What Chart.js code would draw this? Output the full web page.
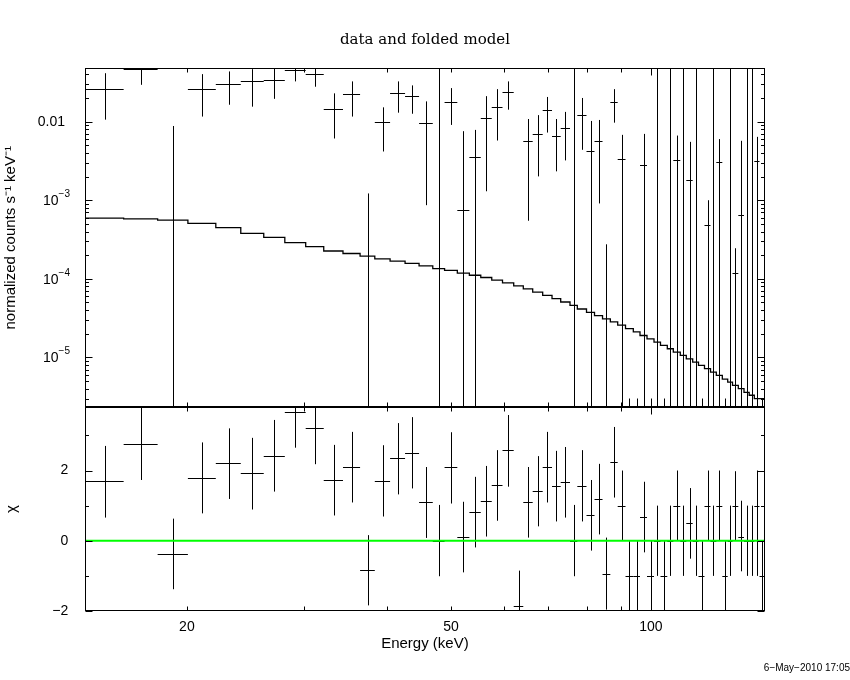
<!DOCTYPE html>
<html>
<head>
<meta charset="utf-8">
<script src="https://cdn.jsdelivr.net/npm/chart.js@4.4.1/dist/chart.umd.min.js"></script>
<style>
html,body{margin:0;padding:0;background:#fff;}
#wrap{position:relative;width:850px;height:680px;}
</style>
</head>
<body>
<div id="wrap"><canvas id="c" width="850" height="680"></canvas></div>
<script>
// ---- bin edges (keV) ----
const binEdges = [14.06, 16.06, 18.07, 20.07, 22.11, 24.11, 26.11, 28.09, 30.20, 32.15,
  34.37, 36.47, 38.38, 40.47, 42.63, 44.75, 46.93, 48.89, 51.10, 53.28,
  55.43, 57.58, 59.77, 62.14, 64.24, 66.37, 68.71, 70.97, 73.14, 75.54,
  77.48, 79.99, 82.24, 84.56, 86.88, 89.13, 91.58, 94.09, 96.30, 98.67,
  101.09, 103.39, 105.86, 108.09, 110.74, 113.07, 115.61, 117.96, 120.44, 122.98,
  125.48, 128.12, 130.54, 132.73, 135.43, 138.13, 140.64, 143.16, 145.76, 148.31];

// ---- data: normalized counts s^-1 keV^-1 (null = no marker drawn; 0 = error bar runs below axis) ----
const rateVal = [0.0257, 0.0465, null, 0.0257, 0.0297, 0.0325, 0.0337, 0.045, 0.0398, 0.0144,
  0.0222, null, 0.0098, 0.0229, 0.0210, 0.0095, null, 0.0176, 0.000755, 0.00354,
  0.0110, 0.0155, 0.0236, null, 0.00565, 0.00693, 0.0141, 0.00659, 0.00832, null,
  0.0122, 0.00426, 0.0057, null, 0.0176, 0.00334, null, null, 0.00283, null,
  null, null, null, 0.00324, null, 0.00181, null, null, 0.000489, null,
  0.00306, null, null, 0.000120, 0.00064, null, null, 0.00315, null];
const rateLo = [0.0106, 0.0294, 0, 0.0116, 0.0164, 0.0155, 0.0195, 0.0325, 0.0278, 0.0061,
  0.0116, 0, 0.00417, 0.0130, 0.0126, 0.000865, 0, 0.00908, 0, 0,
  0.0013, 0.00575, 0.0142, 0, 0.000548, 0.00201, 0.00726, 0.00233, 0.00321, 0,
  0.00438, 0, 0.00091, 0, 0.0097, 0, 0, 0, 0, 0,
  0, 0, 0, 0, 0, 0, 0, 0, 0, 0,
  0, 0, 0, 0, 0, 0, 0, 0, 0];
const rateHi = [0.0413, 0.08, 0.0088, 0.0402, 0.0435, 0.0465, 0.05, 0.06, 0.05, 0.0229,
  0.0325, 0.00122, 0.0152, 0.0325, 0.0289, 0.0181, 1, 0.0267, 0.00756, 0.00785,
  0.0211, 0.0259, 0.0325, null, 0.0108, 0.0121, 0.0206, 0.0108, 0.0133, 1,
  0.0200, 0.0102, 0.0105, 0.000275, 0.0259, 0.00679, 3e-6, 3e-6, 0.00698, 3e-6,
  1, 3e-6, 1, 0.00665, 1, 0.00553, 1, 3e-6, 0.0010, 1,
  0.0060, 3e-6, 1, 0.000245, 0.0057, 1, 1, 0.0064, 3e-6];

// ---- folded model (per bin) ----
const modelVal = [0.000558, 0.000591, 0.000580, 0.000558, 0.000507, 0.000448, 0.000379, 0.000337, 0.000289, 0.000257,
  0.000226, 0.000210, 0.000195, 0.000179, 0.000168, 0.000157, 0.000146, 0.000135, 0.000128, 0.000118,
  0.000111, 0.000104, 9.64e-5, 8.9e-5, 8.15e-5, 7.47e-5, 6.79e-5, 6.17e-5, 5.59e-5, 5.07e-5,
  4.60e-5, 4.13e-5, 3.75e-5, 3.40e-5, 3.09e-5, 2.83e-5, 2.57e-5, 2.33e-5, 2.11e-5, 1.90e-5,
  1.72e-5, 1.57e-5, 1.42e-5, 1.29e-5, 1.17e-5, 1.06e-5, 9.6e-6, 8.7e-6, 7.9e-6, 7.2e-6,
  6.5e-6, 5.9e-6, 5.3e-6, 4.85e-6, 4.4e-6, 4.0e-6, 3.6e-6, 3.3e-6, 3.0e-6];

// ---- residuals (chi) ----
const chiVal = [1.70, 2.76, -0.38, 1.78, 2.21, 1.92, 2.41, 3.66, 3.20, 1.72,
  2.09, -0.83, 1.70, 2.35, 2.49, 1.10, 0, 2.09, 0.11, 0.81,
  1.14, 1.58, 2.58, -1.86, 1.10, 1.42, 2.09, 1.56, 1.68, 0,
  1.55, 0.73, 1.18, -0.95, 2.24, 0.99, -1, -1, 0.67, -1,
  0, -1, 0, 1.0, 0, 0.5, 0, -1, 1.0, 0,
  1.0, -1, 0, 0.98, 0.12, 0, 0, 1.0, -1];
const chiLo = [0.66, 1.73, -1.38, 0.78, 1.19, 0.89, 1.40, 2.65, 2.18, 0.72,
  1.09, -1.84, 0.69, 1.32, 1.49, 0.08, -1.01, 1.06, -0.90, -0.19,
  0.12, 0.57, 1.54, -2.9, 0.09, 0.41, 1.09, 0.55, 0.66, -1.01,
  0.55, -0.28, 0.18, -1.96, 1.23, 0.0, -2, -2, -0.33, -2,
  -1, -2, -1, 0, -1, -0.51, -1, -2, 0, -1,
  0, -2, -1, 0, -0.87, -1, -1, -1, -2];
const chiHi = [2.70, 3.9, 0.63, 2.80, 3.20, 2.93, 3.44, 4.7, 4.2, 2.73,
  3.10, 0.16, 2.72, 3.35, 3.52, 2.10, 1.02, 3.09, 1.11, 1.82,
  2.13, 2.58, 3.58, -0.85, 2.10, 2.41, 3.10, 2.56, 2.67, 1.02,
  2.58, 1.73, 2.19, 0.09, 3.24, 2.0, 0, 0, 1.68, 0,
  1, 0, 1, 2, 1, 1.5, 1, 0, 2, 1,
  2, 0, 1, 1.98, 1.14, 1, 1, 2, 0];

// ---- axes / ticks ----
const xMin = 14.06, xMax = 148.31;
const rateMin = 2.32e-6, rateMax = 0.0477;
const chiMin = -2, chiMax = 3.8;
const xTickLabeled = [20, 50, 100];
const xTickMinor = [20, 30, 40, 50, 60, 70, 80, 90];
const xTickMajor = [100];
const rateMajor = [1e-5, 1e-4, 1e-3, 1e-2];
const rateLabelBase = ['10', '10', '10', '0.01'];
const rateLabelExp = ['\u22125', '\u22124', '\u22123', ''];
const rateMinorFactors = [2, 3, 4, 5, 6, 7, 8, 9];
const chiMajor = [-2, 0, 2];
const chiMinor = [-1, 1, 3];
const chiLabels = ['\u22122', '0', '2'];

const binLo = binEdges.slice(0, -1);
const binHi = binEdges.slice(1);
const centers = binLo.map((lo, i) => (lo + binHi[i]) / 2);
const rateMinor = [];
[-6, -5, -4, -3, -2].forEach(e => rateMinorFactors.forEach(k => rateMinor.push(k * Math.pow(10, e))));

const modelPts = binLo.map((lo, i) => ({x: lo, y: modelVal[i]}));
modelPts.push({x: binHi[binHi.length - 1], y: modelVal[modelVal.length - 1]});

const FONT = '"Liberation Sans", Arial, sans-serif';

function drawCrosses(ctx, xs, ys, val, lo, hi) {
  ctx.save();
  ctx.beginPath();
  ctx.rect(xs.left, ys.top, xs.right - xs.left, ys.bottom - ys.top);
  ctx.clip();
  ctx.strokeStyle = '#000';
  ctx.lineWidth = 1;
  ctx.beginPath();
  for (let i = 0; i < centers.length; i++) {
    const xc = Math.round(xs.getPixelForValue(centers[i])) + 0.5;
    if (hi[i] !== null) {
      ctx.moveTo(xc, ys.getPixelForValue(lo[i]));
      ctx.lineTo(xc, ys.getPixelForValue(hi[i]));
    }
    if (val[i] !== null) {
      const yv = Math.round(ys.getPixelForValue(val[i])) + 0.5;
      ctx.moveTo(xs.getPixelForValue(binLo[i]), yv);
      ctx.lineTo(xs.getPixelForValue(binHi[i]), yv);
    }
  }
  ctx.stroke();
  ctx.restore();
}

const panelsPlugin = {
  id: 'panels',
  beforeDatasetsDraw(chart) {
    const {ctx, scales} = chart;
    drawCrosses(ctx, scales.x, scales.yR, rateVal, rateLo, rateHi);
    drawCrosses(ctx, scales.x, scales.yC, chiVal, chiLo, chiHi);
  },
  afterDraw(chart) {
    const {ctx, scales} = chart;
    const x = scales.x;
    ctx.save();
    ctx.strokeStyle = '#000';
    ctx.lineWidth = 1;
    const L = Math.round(x.left) + 0.5, R = Math.round(x.right) - 0.5;
    [[scales.yR, rateMajor, rateMinor], [scales.yC, chiMajor, chiMinor]].forEach(([ys, maj, mnr]) => {
      const T = Math.round(ys.top) + 0.5, B = Math.round(ys.bottom) - 0.5;
      ctx.strokeRect(L, T, R - L, B - T);
      ctx.beginPath();
      const xt = (vals, len) => vals.forEach(v => {
        const px = Math.round(x.getPixelForValue(v)) + 0.5;
        ctx.moveTo(px, T); ctx.lineTo(px, T + len);
        ctx.moveTo(px, B); ctx.lineTo(px, B - len);
      });
      xt(xTickMinor, 4); xt(xTickMajor, 7);
      const yt = (vals, len) => vals.forEach(v => {
        if (v < ys.min || v > ys.max) return;
        const py = Math.round(ys.getPixelForValue(v)) + 0.5;
        ctx.moveTo(L, py); ctx.lineTo(L + len, py);
        ctx.moveTo(R, py); ctx.lineTo(R - len, py);
      });
      yt(mnr, 3.5); yt(maj, 7);
      ctx.stroke();
    });
    ctx.lineWidth = 2;
    ctx.beginPath();
    const d = Math.round(scales.yR.bottom);
    ctx.moveTo(x.left, d); ctx.lineTo(x.right, d);
    ctx.stroke();

    // log-axis labels with raised exponents
    const yr = scales.yR;
    ctx.fillStyle = '#000';
    ctx.textBaseline = 'middle';
    const rightEdge = 70;
    rateMajor.forEach((v, i) => {
      const py = yr.getPixelForValue(v);
      ctx.font = '10px ' + FONT;
      const expW = rateLabelExp[i] ? ctx.measureText(rateLabelExp[i]).width : 0;
      ctx.font = '14px ' + FONT;
      const baseW = ctx.measureText(rateLabelBase[i]).width;
      if (rateLabelExp[i]) {
        ctx.textAlign = 'left';
        ctx.fillText(rateLabelBase[i], rightEdge - expW - baseW, py + 1);
        ctx.font = '10px ' + FONT;
        ctx.fillText(rateLabelExp[i], rightEdge - expW, py - 6);
      } else {
        ctx.textAlign = 'right';
        ctx.fillText(rateLabelBase[i], rightEdge - 5, py + 1);
      }
    });
    ctx.restore();
  }
};

Chart.defaults.font.family = FONT;
Chart.defaults.color = '#000';

const tickFont = {family: FONT, size: 14};
const titleFont = {family: FONT, size: 15};
const noGrid = {display: false, drawTicks: false, tickLength: 0};

new Chart(document.getElementById('c'), {
  type: 'scatter',
  data: {
    datasets: [
      {label: 'data', data: centers.map((c, i) => ({x: c, y: rateVal[i]})).filter(p => p.y !== null),
       xAxisID: 'x', yAxisID: 'yR', pointRadius: 0, showLine: false},
      {label: 'model', data: modelPts, xAxisID: 'x', yAxisID: 'yR', type: 'line', stepped: 'after',
       borderColor: '#000', borderWidth: 1.3, pointRadius: 0, fill: false},
      {label: 'chi', data: centers.map((c, i) => ({x: c, y: chiVal[i]})),
       xAxisID: 'x', yAxisID: 'yC', pointRadius: 0, showLine: false},
      {label: 'zero', data: [{x: xMin, y: 0}, {x: xMax, y: 0}], xAxisID: 'x', yAxisID: 'yC', type: 'line',
       borderColor: '#00ff00', borderWidth: 2, pointRadius: 0, fill: false}
    ]
  },
  options: {
    responsive: false,
    animation: false,
    events: [],
    layout: {padding: 0},
    plugins: {
      legend: {display: false},
      tooltip: {enabled: false},
      title: {display: true, text: 'data and folded model', color: '#000',
        font: {family: '"DejaVu Serif", serif', size: 15, weight: 'normal'},
        padding: {top: 31, bottom: 19.3}},
      subtitle: {display: true, text: '6\u2212May\u22122010 17:05', position: 'bottom', align: 'end', color: '#000',
        font: {family: FONT, size: 10}, padding: {top: 0, bottom: 6}}
    },
    scales: {
      x: {type: 'logarithmic', position: 'bottom', min: xMin, max: xMax,
        grid: noGrid, border: {display: false},
        afterBuildTicks: s => { s.ticks = xTickLabeled.map(v => ({value: v})); },
        afterFit: s => { s.height = 51; },
        ticks: {font: tickFont, color: '#000', padding: 7.6, autoSkip: false, maxRotation: 0,
          callback: v => String(v)},
        title: {display: true, text: 'Energy (keV)', font: titleFont, color: '#000', padding: {top: 0, bottom: 9}}
      },
      yC: {type: 'linear', position: 'left', stack: 'panels', stackWeight: 203.7, min: chiMin, max: chiMax,
        grid: noGrid, border: {display: false},
        afterBuildTicks: s => { s.ticks = chiMajor.map(v => ({value: v})); },
        afterFit: s => { s.width = 85.3; },
        ticks: {font: tickFont, color: '#000', padding: 17, autoSkip: false,
          callback: v => chiLabels[chiMajor.indexOf(v)]},
        title: {display: true, text: '\u03C7', font: titleFont, color: '#000', padding: {top: 3, bottom: 0}}
      },
      yR: {type: 'logarithmic', position: 'left', stack: 'panels', stackWeight: 339, min: rateMin, max: rateMax,
        grid: noGrid, border: {display: false},
        afterBuildTicks: s => { s.ticks = rateMajor.map(v => ({value: v})); },
        afterFit: s => { s.width = 85.3; },
        ticks: {display: false},
        title: {display: true, text: 'normalized counts s\u207B\u00B9 keV\u207B\u00B9', font: titleFont, color: '#000',
          padding: {top: 2, bottom: 0}}
      },
      yRight: {type: 'linear', position: 'right', display: true,
        grid: {display: false, drawTicks: false}, border: {display: false},
        ticks: {display: false},
        afterFit: s => { s.width = 85.5; }
      }
    }
  },
  plugins: [panelsPlugin]
});
</script>
</body>
</html>
